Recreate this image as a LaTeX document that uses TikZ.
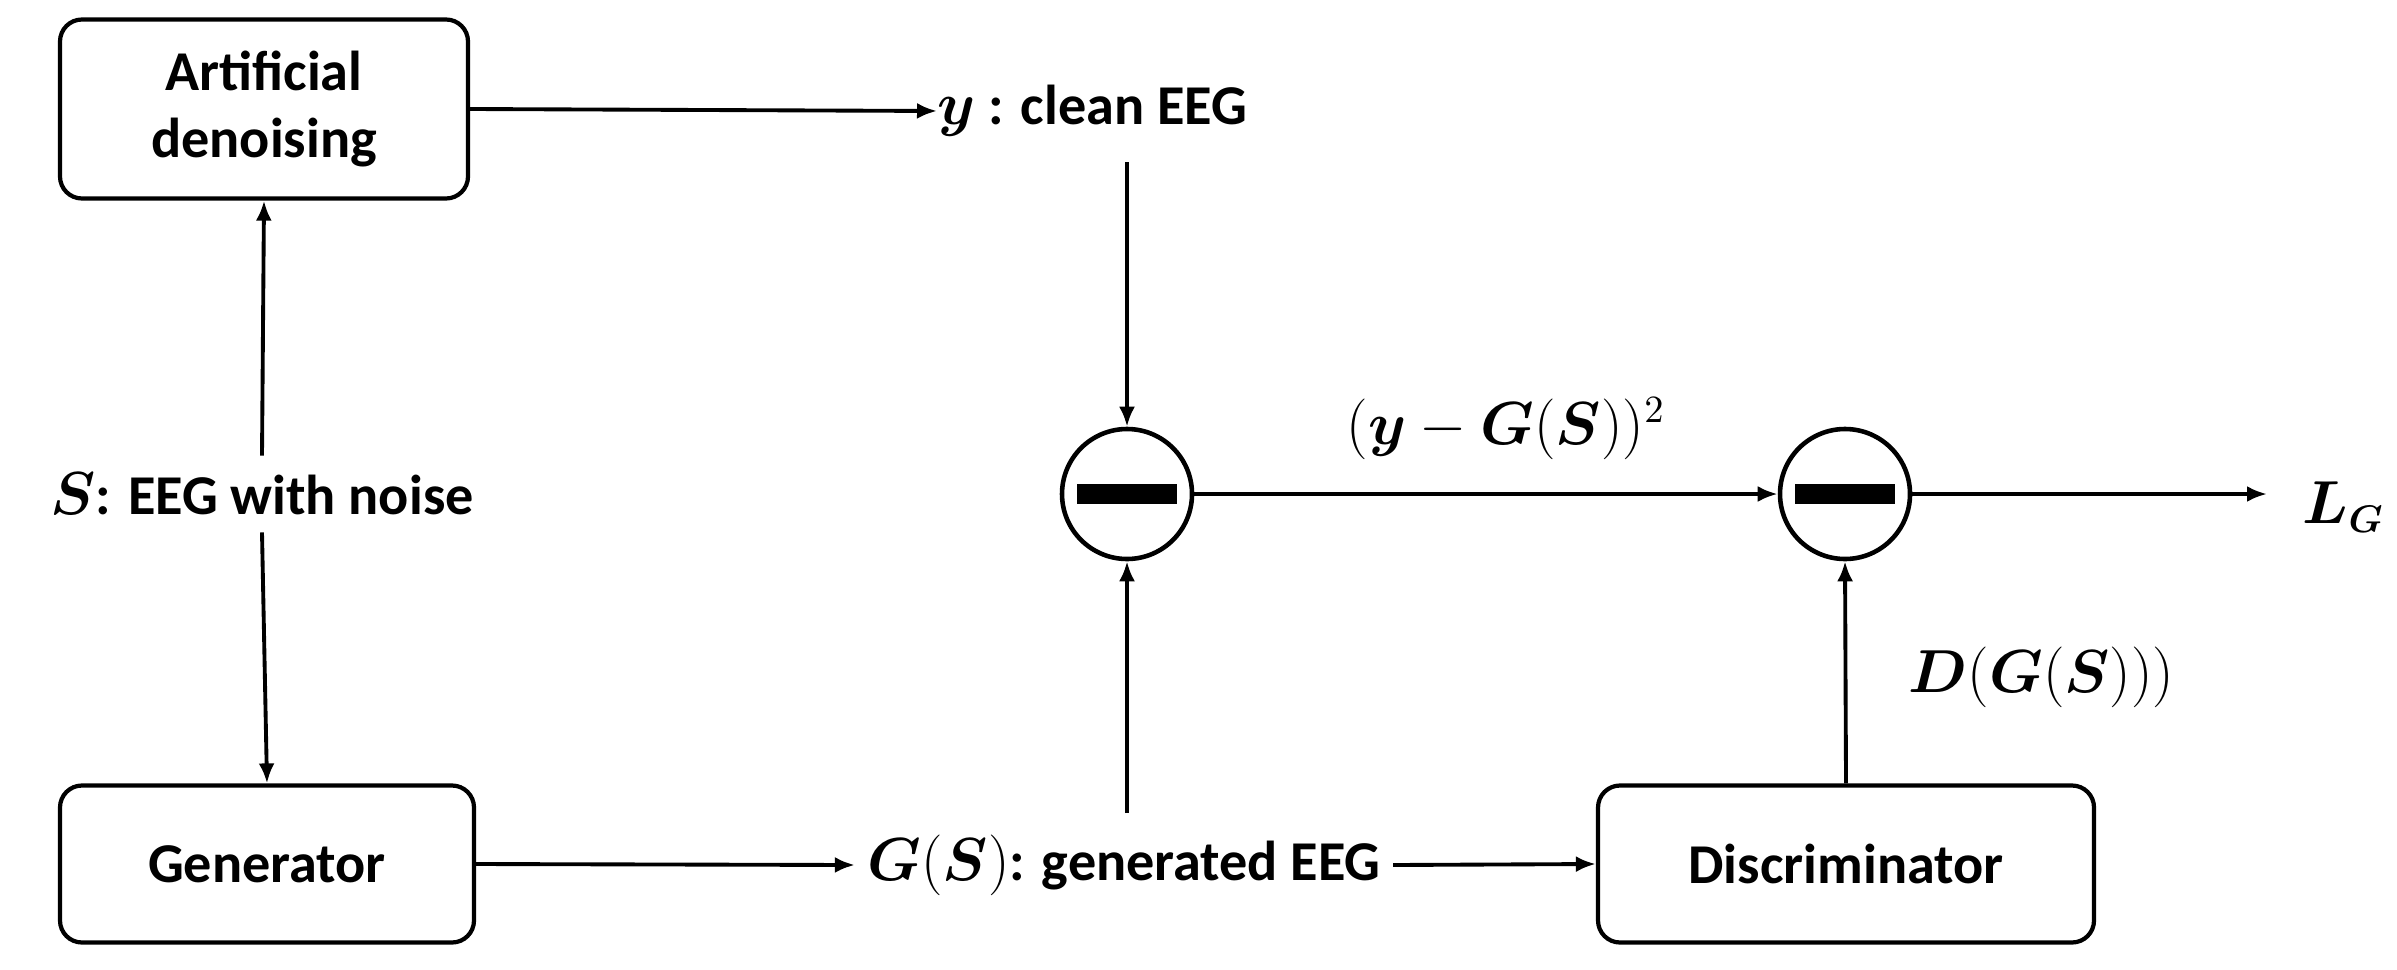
\documentclass[tikz,border=0pt]{standalone}
\usepackage{amsmath,bm}
\usepackage{fontspec}
\setmainfont{Carlito}
\usetikzlibrary{arrows.meta}
\begin{document}
\begin{tikzpicture}[
  every node/.style={font=\fontsize{16}{19}\selectfont\bfseries},
  box/.style={draw, line width=1.2pt, rounded corners=0.22cm, align=center, inner sep=0pt},
  sub/.style={draw, circle, line width=1.3pt, minimum size=1.3cm, inner sep=0pt,
    path picture={\fill ([xshift=-0.5cm,yshift=-0.1cm]path picture bounding box.center) rectangle ++(1cm,0.2cm);}},
  arr/.style={-{Latex[length=0.2cm,width=0.16cm]}, line width=1.1pt}
]
\useasboundingbox (0,0) rectangle (23.97,9.69);
\node[box, minimum width=4.08cm, minimum height=1.79cm] (art) at (2.64,8.60) {Artificial\\denoising};
\node[box, minimum width=4.14cm, minimum height=1.57cm] (gen) at (2.67,1.05) {Generator};
\node[box, minimum width=4.96cm, minimum height=1.57cm] (dis) at (18.46,1.05) {Discriminator};
\node (s) at (2.62,4.75) {$\bm{S}$: EEG with noise};
\node[anchor=west, inner sep=0pt] (y) at (9.37,8.58) {$\bm{y}$ : clean EEG};
\node[sub] (c1) at (11.27,4.75) {};
\node[sub] (c2) at (18.45,4.75) {};
\node (gs) at (11.24,1.04) {$\bm{G}(\bm{S})$: generated EEG};
\node[anchor=west, inner sep=0pt] (lg) at (23.02,4.62) {$\bm{L_G}$};
\node (l1) at (15.06,5.40) {$(\bm{y}-\bm{G}(\bm{S}))^2$};
\node[anchor=west, inner sep=0pt] (l2) at (19.08,2.92) {$\bm{D}(\bm{G}(\bm{S})))$};
\coordinate (ybot) at (11.27,8.07);
\coordinate (gstop) at (11.27,1.56);
\coordinate (lgend) at (22.67,4.75);
\draw[arr] (art.east) -- (y.west);
\draw[arr] (s.north) ++(0,0.05) -- (art.south);
\draw[arr] (s.south) ++(0,-0.05) -- (gen.north);
\draw[arr] (ybot) -- (c1.north);
\draw[arr] (gstop) -- (c1.south);
\draw[arr] (c1.east) -- (c2.west);
\draw[arr] (c2.east) -- (lgend);
\draw[arr] (dis.north) -- (c2.south);
\draw[arr] (gen.east) -- (gs.west);
\draw[arr] (gs.east) -- (dis.west);
\end{tikzpicture}
\end{document}
